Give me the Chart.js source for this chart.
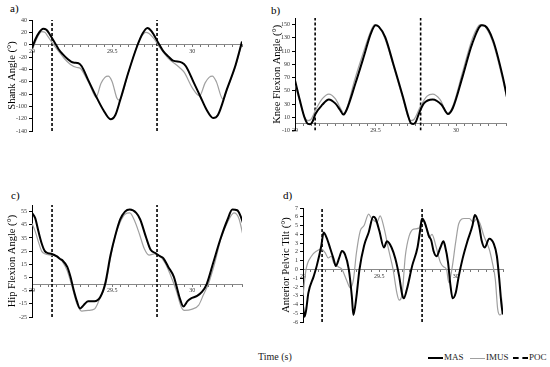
<!DOCTYPE html>
<html>
<head>
<meta charset="utf-8">
<script src="https://cdn.jsdelivr.net/npm/chart.js@4/dist/chart.umd.min.js"></script>
<style>
  body { margin: 0; width: 550px; height: 367px; background: #fff; position: relative; overflow: hidden; font-family: "Liberation Serif", serif; color: #000; }
  .pane { position: absolute; }
  .tag { position: absolute; font-size: 11px; }
  .leg { position: absolute; font-size: 9px; white-space: nowrap; color: #222; }
  .sw { position: absolute; width: 15px; height: 0; }
</style>
</head>
<body>
<div class="tag" style="left:10px;top:2px">a)</div>
<div class="tag" style="left:271px;top:4px">b)</div>
<div class="tag" style="left:11px;top:189px">c)</div>
<div class="tag" style="left:283px;top:189px">d)</div>

<div class="pane" style="left:0;top:10px"><canvas id="shank" width="250" height="135"></canvas></div>
<div class="pane" style="left:271px;top:5px"><canvas id="knee" width="254" height="140"></canvas></div>
<div class="pane" style="left:0;top:190px"><canvas id="hip" width="250" height="140"></canvas></div>
<div class="pane" style="left:275px;top:190px"><canvas id="pelvis" width="250" height="145"></canvas></div>

<div class="leg" style="left:258px;top:351px;font-size:10px">Time (s)</div>
<div class="sw" style="left:428px;top:357px;border-top:2px solid #000"></div>
<div class="leg" style="left:444px;top:352px">MAS</div>
<div class="sw" style="left:470px;top:358px;border-top:1px solid #a0a0a0"></div>
<div class="leg" style="left:486px;top:352px">IMUS</div>
<div class="sw" style="left:513px;top:357px;border-top:2px dashed #000"></div>
<div class="leg" style="left:529px;top:352px">POC</div>

<script>
// time axis (s)
const X_MIN = 29;
const X_MAX = 30.31;
const X_LABELS = [29, 29.5, 30];
const POC_TIMES = [29.125, 29.78];

// tick values per panel
const SHANK_TICKS = [-140, -120, -100, -80, -60, -40, -20, 0, 20, 40];
const KNEE_TICKS = [-10, 10, 30, 50, 70, 90, 110, 130, 150];
const HIP_TICKS = [-25, -15, -5, 5, 15, 25, 35, 45, 55];
const PELVIS_TICKS = [-6, -5, -4, -3, -2, -1, 0, 1, 2, 3, 4, 5, 6, 7];

// [time, angle] pairs
const SHANK_MAS = [[29.00,-6],[29.02,8],[29.045,20],[29.07,26],[29.09,24],[29.11,17],[29.145,2],[29.165,-7],[29.19,-15],[29.217,-22],[29.258,-29],[29.29,-30],[29.31,-35],[29.35,-57],[29.40,-84],[29.445,-106],[29.49,-121],[29.52,-114],[29.55,-90],[29.60,-46],[29.655,-3],[29.69,18],[29.72,27],[29.745,22],[29.79,2],[29.82,-11],[29.85,-19],[29.88,-26],[29.935,-29],[29.96,-35],[30.01,-62],[30.05,-84],[30.09,-106],[30.13,-119],[30.16,-114],[30.215,-73],[30.27,-33],[30.31,5]];
const SHANK_IMUS = [[29.00,-10],[29.02,4],[29.04,15],[29.06,21],[29.08,20],[29.10,13],[29.14,-2],[29.17,-12],[29.20,-22],[29.24,-32],[29.28,-37],[29.30,-38],[29.33,-50],[29.36,-65],[29.40,-85],[29.43,-63],[29.455,-53],[29.475,-51],[29.50,-60],[29.53,-87],[29.545,-90],[29.60,-46],[29.65,-6],[29.68,12],[29.71,20],[29.73,18],[29.76,10],[29.79,-2],[29.85,-22],[29.92,-37],[29.95,-45],[30.00,-70],[30.045,-83],[30.08,-62],[30.105,-53],[30.125,-51],[30.15,-60],[30.19,-88],[30.20,-86],[30.215,-74],[30.27,-35],[30.31,3]];

const KNEE_MAS = [[29.00,66],[29.03,36],[29.06,9],[29.08,0],[29.095,-0.5],[29.11,4],[29.125,14],[29.17,29],[29.21,37],[29.25,31],[29.28,21],[29.30,14],[29.32,21],[29.375,61],[29.43,104],[29.47,136],[29.50,149],[29.52,147],[29.56,131],[29.61,91],[29.67,41],[29.70,14],[29.72,1],[29.735,0],[29.75,3],[29.77,16],[29.80,31],[29.855,37],[29.91,29],[29.95,15],[29.98,24],[30.04,71],[30.10,121],[30.16,149],[30.18,148],[30.23,126],[30.29,71],[30.32,36]];
const KNEE_IMUS = [[29.00,60],[29.03,33],[29.06,10],[29.08,5],[29.10,7],[29.13,22],[29.17,38],[29.21,45],[29.25,38],[29.29,20],[29.305,15],[29.32,22],[29.37,66],[29.43,112],[29.47,140],[29.495,150],[29.52,147],[29.56,128],[29.61,88],[29.67,38],[29.70,12],[29.72,5],[29.74,7],[29.78,27],[29.82,42],[29.855,45],[29.90,37],[29.95,16],[29.98,27],[30.04,78],[30.10,128],[30.15,150],[30.18,147],[30.23,122],[30.29,66],[30.32,33]];

const HIP_MAS = [[29.00,54],[29.02,50],[29.04,40],[29.06,31],[29.08,25],[29.10,23.5],[29.12,23],[29.155,21],[29.175,19],[29.19,18],[29.22,13],[29.24,5.5],[29.26,-4.5],[29.28,-13],[29.30,-18.5],[29.315,-17],[29.33,-15],[29.35,-13],[29.39,-13],[29.425,-10],[29.456,0],[29.49,22],[29.52,37],[29.55,49],[29.58,55],[29.61,56.5],[29.65,54],[29.675,49],[29.71,36],[29.74,26],[29.77,23.5],[29.80,21],[29.82,19.5],[29.85,13],[29.885,5.5],[29.90,-1],[29.92,-10],[29.945,-17],[29.97,-13],[29.99,-11],[30.03,-9],[30.06,-6],[30.09,0],[30.13,16],[30.175,34],[30.22,49],[30.25,56.5],[30.28,56],[30.30,52],[30.32,45]];
const HIP_IMUS = [[29.00,46],[29.02,40],[29.04,32],[29.06,25],[29.08,23],[29.12,22],[29.16,21],[29.19,17],[29.22,10],[29.25,-2],[29.28,-15],[29.31,-20.5],[29.35,-20],[29.39,-19],[29.42,-12],[29.46,0],[29.49,20],[29.52,37],[29.55,47],[29.58,53],[29.61,54],[29.64,48],[29.67,38],[29.70,27],[29.73,22],[29.77,23],[29.80,21],[29.83,16],[29.86,8],[29.90,-5],[29.93,-17],[29.95,-20],[30.00,-19],[30.04,-16],[30.07,-8],[30.10,0],[30.14,16],[30.18,35],[30.22,47],[30.26,54],[30.29,50],[30.32,35]];

const PELVIS_MAS = [[29.00,-4.2],[29.01,-5.4],[29.02,-4.7],[29.035,-2.7],[29.07,-0.8],[29.09,0.4],[29.12,2.7],[29.135,4.2],[29.155,3.6],[29.18,2.3],[29.20,1.2],[29.215,0.4],[29.237,1.3],[29.255,2.1],[29.275,1.7],[29.30,0],[29.32,-3.1],[29.33,-5.2],[29.35,-3.1],[29.37,0],[29.40,2.7],[29.43,4.2],[29.46,6.0],[29.475,5.8],[29.50,4.4],[29.53,2.5],[29.55,3.2],[29.58,2.5],[29.605,1.2],[29.63,-0.8],[29.65,-2.9],[29.66,-3.3],[29.68,-2.3],[29.715,0.4],[29.75,2.5],[29.77,4.8],[29.78,5.8],[29.80,5.2],[29.825,3.8],[29.84,3.3],[29.855,2.1],[29.875,1.5],[29.90,2.5],[29.92,3.2],[29.93,2.7],[29.95,0.8],[29.965,-1.7],[29.98,-3.3],[30.00,-2.7],[30.02,-0.8],[30.045,1.2],[30.075,3.1],[30.11,5.0],[30.125,6.2],[30.14,5.8],[30.155,4.8],[30.17,3.3],[30.19,2.5],[30.22,3.5],[30.25,2.9],[30.27,1.5],[30.285,-1],[30.30,-4],[30.31,-5.1],[30.325,-3.8]];
const PELVIS_IMUS = [[29.00,-3],[29.02,0],[29.055,1.5],[29.09,2.1],[29.12,2.3],[29.145,1.9],[29.165,1.3],[29.185,1.5],[29.20,0.8],[29.23,0.3],[29.255,0],[29.285,-1.2],[29.31,-2.1],[29.33,-1.2],[29.35,1.9],[29.375,4.4],[29.40,5.0],[29.43,6.3],[29.45,5.8],[29.485,5.4],[29.505,6.1],[29.53,4.8],[29.56,2.3],[29.59,0],[29.615,-2.7],[29.63,-3.5],[29.65,-2.7],[29.67,1.5],[29.695,3.8],[29.725,4.6],[29.76,4.7],[29.78,5.8],[29.80,5.4],[29.825,3.6],[29.845,4.0],[29.87,2.7],[29.90,0.8],[29.92,0.3],[29.94,0],[29.955,-1.5],[29.975,0],[30.00,3.1],[30.02,5.2],[30.055,5.8],[30.09,5.8],[30.115,5.4],[30.14,5.8],[30.16,5.2],[30.185,3.8],[30.22,2.3],[30.24,0.8],[30.26,-1.2],[30.275,-4.5],[30.29,-5.2],[30.305,-4.8],[30.32,-1.5]];

const serif = "'Liberation Serif', 'Times New Roman', serif";
const toXY = (pairs) => pairs.map(([x, y]) => ({ x, y }));

function makePanel(id, opts) {
  const ctx = document.getElementById(id).getContext("2d");
  const yMin = opts.ticks[0];
  const yMax = opts.yMax;

  const pocSets = POC_TIMES.map((t) => ({
    label: "POC",
    data: [{ x: t, y: yMin }, { x: t, y: yMax }],
    borderColor: "#000",
    borderWidth: 1.6,
    borderDash: [3, 2],
    tension: 0,
    cubicInterpolationMode: "default",
  }));

  return new Chart(ctx, {
    type: "line",
    data: {
      datasets: [
        { label: "MAS", data: toXY(opts.mas), borderColor: "#000", borderWidth: 2 },
        { label: "IMUS", data: toXY(opts.imus), borderColor: "#a0a0a0", borderWidth: 1.2 },
        ...pocSets,
      ],
    },
    options: {
      responsive: false,
      animation: false,
      devicePixelRatio: 1,
      layout: { padding: opts.pad },
      plugins: { legend: { display: false }, tooltip: { enabled: false } },
      elements: {
        point: { radius: 0 },
        line: { tension: 0.4, cubicInterpolationMode: "monotone", fill: false, borderJoinStyle: "round" },
      },
      scales: {
        x: {
          type: "linear",
          position: { y: 0 },
          min: X_MIN,
          max: X_MAX,
          grid: { drawOnChartArea: false, tickLength: 2, color: "#777" },
          border: { color: "#888", width: 1 },
          ticks: {
            stepSize: 0.05,
            autoSkip: false,
            maxRotation: 0,
            padding: 1,
            color: "#333",
            font: { family: serif, size: 6 },
            callback: (v) => {
              const r = Math.round(v * 100) / 100;
              return X_LABELS.includes(r) ? String(r) : "";
            },
          },
        },
        y: {
          type: "linear",
          min: yMin,
          max: yMax,
          afterBuildTicks: (s) => {
            s.ticks = opts.ticks.map((v) => ({ value: v }));
          },
          afterFit: (s) => {
            s.width = opts.yW;
          },
          grid: { drawOnChartArea: false, tickLength: 3, color: "#000" },
          border: { color: "#000", width: 1 },
          ticks: { autoSkip: false, padding: 2, color: "#333", font: { family: serif, size: 6 } },
          title: {
            display: true,
            text: opts.title,
            color: "#000",
            padding: { top: 0, bottom: 0 },
            font: { family: serif, size: 10.5 },
          },
        },
      },
    },
  });
}

makePanel("shank", {
  mas: SHANK_MAS, imus: SHANK_IMUS, ticks: SHANK_TICKS, yMax: 40,
  title: "Shank Angle (°)", yW: 26,
  pad: { left: 6, top: 10, right: 8, bottom: 14 },
});
makePanel("knee", {
  mas: KNEE_MAS, imus: KNEE_IMUS, ticks: KNEE_TICKS, yMax: 160,
  title: "Knee Flexion Angle (°)", yW: 24,
  pad: { left: 0, top: 13, right: 19, bottom: 14.5 },
});
makePanel("hip", {
  mas: HIP_MAS, imus: HIP_IMUS, ticks: HIP_TICKS, yMax: 60,
  title: "Hip Flexion Angle (°)", yW: 26,
  pad: { left: 6, top: 15, right: 8, bottom: 13 },
});
makePanel("pelvis", {
  mas: PELVIS_MAS, imus: PELVIS_IMUS, ticks: PELVIS_TICKS, yMax: 7,
  title: "Anterior Pelvic Tilt (°)", yW: 23,
  pad: { left: 5, top: 18, right: 22, bottom: 13 },
});
</script>
</body>
</html>
